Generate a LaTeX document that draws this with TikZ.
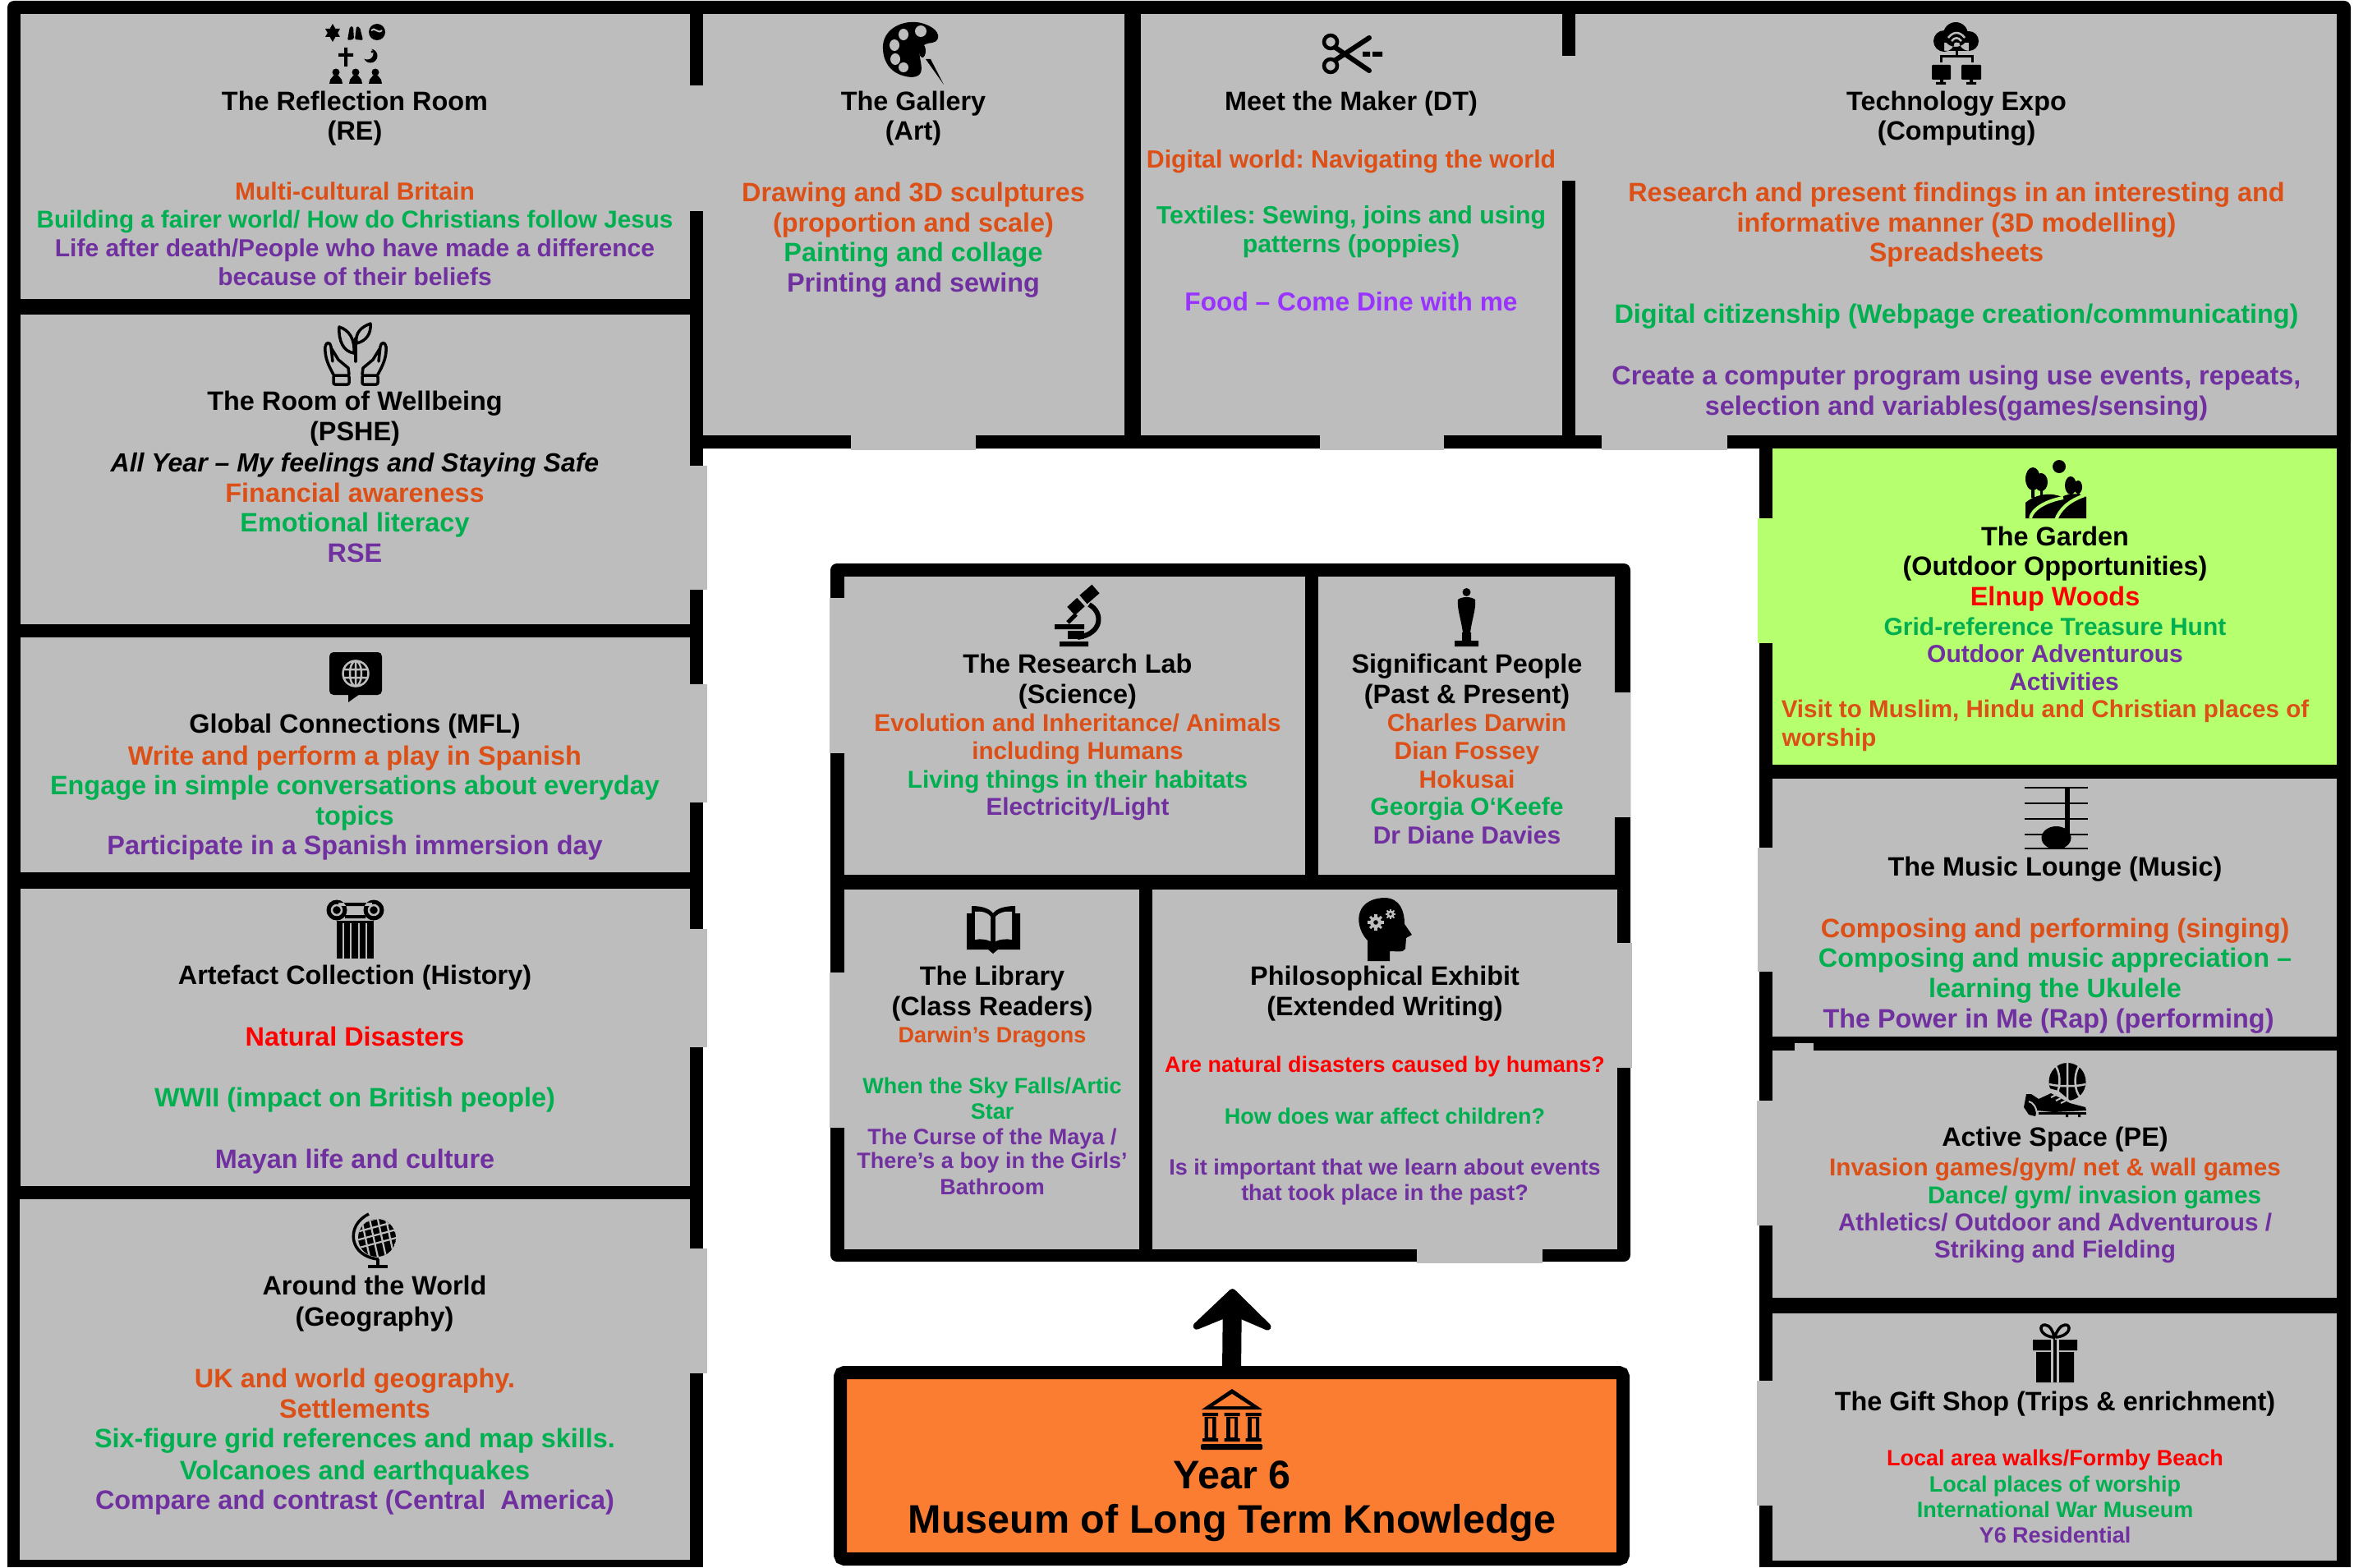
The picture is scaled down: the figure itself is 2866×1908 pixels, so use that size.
\documentclass[tikz,border=0pt]{standalone}
\usepackage{fontspec}
\usetikzlibrary{arrows.meta}
\newfontfamily\lab{Liberation Sans Bold}
\newfontfamily\labi{Liberation Sans Bold Italic}
\newfontfamily\labb{Liberation Sans Bold}
\definecolor{gbg}{HTML}{BDBDBD}
\definecolor{cO}{HTML}{DC4F16}
\definecolor{cG}{HTML}{00B050}
\definecolor{cP}{HTML}{7030A0}
\definecolor{cR}{HTML}{FF0000}
\definecolor{cL}{HTML}{9933FF}
\definecolor{cK}{HTML}{000000}
\definecolor{gard}{HTML}{B6FF6E}
\definecolor{orng}{HTML}{FA7D32}
\frenchspacing
\newcount\tlc
\newcommand{\tl}[5][\lab]{\global\advance\tlc by 1
  \node[anchor=base,inner sep=0pt,text=#4,font=#1\fontsize{#3}{#3}\selectfont] (t\the\tlc) at (#2,{#5}) {\frenchspacing\tltext};}
\newcommand{\T}[6][\lab]{\def\tltext{#6}\tl[#1]{#2}{#4}{#5}{#3*1.828+1+0.33*#4}}
\newcommand{\gear}[3]{\foreach \a in {0,45,...,315}{\draw[gbg,line width=#3*0.45pt] (#1,#2) -- ++(\a:#3*1.4);}
  \fill[gbg] (#1,#2) circle (#3); \fill[black] (#1,#2) circle (#3*0.4);}
\tikzset{room/.style={fill=gbg,draw=none},wall/.style={fill=black,draw=none},
 ico/.style={line width=3.5pt,line cap=round,line join=round},gl/.style={draw=gbg,line width=2.5pt}}
\begin{document}
\begin{tikzpicture}[x=1pt,y=-1pt]
\useasboundingbox (0,0) rectangle (2866,1908);
\fill[white] (0,0) rectangle (2866,1908);
% black masses
\fill[wall,rounded corners=8pt] (9,1) rectangle (2862,546);
\fill[wall] (9,20) rectangle (856,1908);
\fill[wall] (2142,530) rectangle (2862,1908);
\fill[wall,rounded corners=8pt] (1011,686) rectangle (1985,1536);
% rooms
\fill[room] (25,17) rectangle (840,364);
\fill[room] (25,383) rectangle (840,760);
\fill[room] (25,776) rectangle (840,1062);
\fill[room] (25,1082) rectangle (840,1444);
\fill[room] (24,1460) rectangle (840,1899);
\fill[room] (856,17) rectangle (1369,530);
\fill[room] (1389,17) rectangle (1902,530);
\fill[room] (1918,17) rectangle (2845,530);
\fill[gard] (2158,546) rectangle (2845,931);
\fill[room] (2158,948) rectangle (2845,1262);
\fill[room] (2158,1279) rectangle (2845,1580);
\fill[room] (2158,1599) rectangle (2845,1900);
\fill[room] (1028,702) rectangle (1589,1065);
\fill[room] (1605,702) rectangle (1966,1065);
\fill[room] (1028,1083) rectangle (1387,1521);
\fill[room] (1403,1083) rectangle (1969,1521);
% doors
\fill[room] (838,104) rectangle (858,257);
\fill[room] (1900,68) rectangle (1920,220);
\fill[room] (1036,528) rectangle (1188,548);
\fill[room] (1607,528) rectangle (1758,548);
\fill[room] (1950,528) rectangle (2103,548);
\fill[room] (838,567) rectangle (861,718);
\fill[room] (838,833) rectangle (861,977);
\fill[room] (838,1131) rectangle (861,1275);
\fill[room] (838,1520) rectangle (861,1672);
\fill[gard] (2140,631) rectangle (2160,783);
\fill[room] (2140,1032) rectangle (2160,1183);
\fill[room] (2139,1340) rectangle (2160,1492);
\fill[room] (2139,1681) rectangle (2160,1833);
\fill[room] (2185,1270) rectangle (2208,1281);
\fill[room] (1010,728) rectangle (1030,917);
\fill[room] (1010,1184) rectangle (1030,1373);
\fill[room] (1964,843) rectangle (1985,995);
\fill[room] (1967,1148) rectangle (1987,1300);
\fill[room] (1725,1519) rectangle (1878,1538);
% museum and arrow
\coordinate (tgt) at (1500.5,1569);
\node[draw=black,line width=16pt,fill=orng,rounded corners=5pt,minimum width=953pt,minimum height=227pt,inner sep=0pt,outer sep=0pt] (museum) at (1499.5,1784.5) {};
\draw[line width=23pt,-{Stealth[length=60pt,width=124pt,inset=26pt,round]}] (museum.north) -- (tgt);
% ---------- text
\T{432}{67}{32.4}{cK}{The Reflection Room}
\T{432}{87}{32.4}{cK}{(RE)}
\T{432}{127}{30}{cO}{Multi-cultural Britain}
\T{432}{146}{29.6}{cG}{Building a fairer world/ How do Christians follow Jesus}
\T{432}{165}{30}{cP}{Life after death/People who have made a difference}
\T{432}{184}{30}{cP}{because of their beliefs}
\T{432}{267}{32.4}{cK}{The Room of Wellbeing}
\T{432}{287}{32.4}{cK}{(PSHE)}
\T[\labi]{432}{308}{32}{cK}{All Year – My feelings and Staying Safe}
\T{432}{328}{32.4}{cO}{Financial awareness}
\T{432}{348}{32.4}{cG}{Emotional literacy}
\T{432}{368}{32.4}{cP}{RSE}
\T{432}{482}{32.4}{cK}{Global Connections (MFL)}
\T{432}{503}{32.4}{cO}{Write and perform a play in Spanish}
\T{432}{523}{32.4}{cG}{Engage in simple conversations about everyday}
\T{432}{543}{32.4}{cG}{topics}
\T{432}{563}{32.4}{cP}{Participate in a Spanish immersion day}
\T{432}{649}{32.4}{cK}{Artefact Collection (History)}
\T{432}{690}{32.4}{cR}{Natural Disasters}
\T{432}{731}{32.4}{cG}{WWII (impact on British people)}
\T{432}{772}{32.4}{cP}{Mayan life and culture}
\T{456}{856}{32.4}{cK}{Around the World}
\T{456}{877}{32.4}{cK}{(Geography)}
\T{432}{918}{32.4}{cO}{UK and world geography.}
\T{432}{938}{32.4}{cO}{Settlements}
\T{432}{958}{32.4}{cG}{Six-figure grid references and map skills.}
\T{432}{979}{32.4}{cG}{Volcanoes and earthquakes}
\T{432}{999}{32.4}{cP}{Compare and contrast (Central\ \ America)}
\T{1112}{67}{32.4}{cK}{The Gallery}
\T{1112}{87}{32.4}{cK}{(Art)}
\T{1112}{128}{32.4}{cO}{Drawing and 3D sculptures}
\T{1112}{148}{32.4}{cO}{(proportion and scale)}
\T{1112}{168}{32.4}{cG}{Painting and collage}
\T{1112}{188}{32.4}{cP}{Printing and sewing}
\T{1645}{67}{32.4}{cK}{Meet the Maker (DT)}
\T{1645}{106}{30.3}{cO}{Digital world: Navigating the world}
\T{1645}{143}{30.3}{cG}{Textiles: Sewing, joins and using}
\T{1645}{162}{30.3}{cG}{patterns (poppies)}
\T{1645}{201}{31.7}{cL}{Food – Come Dine with me}
\T{2382}{67}{32.4}{cK}{Technology Expo}
\T{2382}{87}{32.4}{cK}{(Computing)}
\T{2382}{128}{32.4}{cO}{Research and present findings in an interesting and}
\T{2382}{148}{32.4}{cO}{informative manner (3D modelling)}
\T{2382}{168}{32.4}{cO}{Spreadsheets}
\T{2382}{209}{32.4}{cG}{Digital citizenship (Webpage creation/communicating)}
\T{2382}{250}{32.4}{cP}{Create a computer program using use events, repeats,}
\T{2382}{270}{32.4}{cP}{selection and variables(games/sensing)}
\T{2502}{357}{32.4}{cK}{The Garden}
\T{2502}{377}{32.4}{cK}{(Outdoor Opportunities)}
\T{2502}{397}{32.4}{cR}{Elnup Woods}
\T{2502}{417}{30}{cG}{Grid-reference Treasure Hunt}
\T{2502}{435}{30}{cP}{Outdoor Adventurous}
\T{2513}{454}{30}{cP}{Activities}
\T{2490}{472}{29.6}{cO}{Visit to Muslim, Hindu and Christian places of}
\T{2227}{491}{30}{cO}{worship}
\T{2502}{577}{32.4}{cK}{The Music Lounge (Music)}
\T{2502}{618}{32.4}{cO}{Composing and performing (singing)}
\T{2502}{638}{32.4}{cG}{Composing and music appreciation –}
\T{2502}{658}{32.4}{cG}{learning the Ukulele}
\T{2494}{678}{32.4}{cP}{The Power in Me (Rap) (performing)}
\T{2502}{757}{32.4}{cK}{Active Space (PE)}
\T{2502}{777}{29.7}{cO}{Invasion games/gym/ net \& wall games}
\T{2550}{796}{29.7}{cG}{Dance/ gym/ invasion games}
\T{2502}{814}{29.7}{cP}{Athletics/ Outdoor and Adventurous /}
\T{2502}{832}{29.7}{cP}{Striking and Fielding}
\T{2502}{933}{32.4}{cK}{The Gift Shop (Trips \& enrichment)}
\T{2502}{971}{27}{cR}{Local area walks/Formby Beach}
\T{2502}{988}{27}{cG}{Local places of worship}
\T{2502}{1005}{27}{cG}{International War Museum}
\T{2502}{1022}{27}{cP}{Y6 Residential}
\T{1312}{442}{32.4}{cK}{The Research Lab}
\T{1312}{462}{32.4}{cK}{(Science)}
\T{1312}{481}{29.7}{cO}{Evolution and Inheritance/ Animals}
\T{1312}{500}{29.7}{cO}{including Humans}
\T{1312}{519}{29.7}{cG}{Living things in their habitats}
\T{1312}{537}{29.7}{cP}{Electricity/Light}
\T{1786}{442}{32.4}{cK}{Significant People}
\T{1786}{462}{32.4}{cK}{(Past \& Present)}
\T{1798}{481}{30}{cO}{Charles Darwin}
\T{1786}{500}{30}{cO}{Dian Fossey}
\T{1786}{519}{30}{cO}{Hokusai}
\T{1786}{537}{30}{cG}{Georgia O‘Keefe}
\T{1786}{556}{30}{cP}{Dr Diane Davies}
\T{1208}{650}{32.4}{cK}{The Library}
\T{1208}{670}{32.4}{cK}{(Class Readers)}
\T{1208}{689}{27}{cO}{Darwin’s Dragons}
\T{1208}{723}{27}{cG}{When the Sky Falls/Artic}
\T{1208}{740}{27}{cG}{Star}
\T{1208}{757}{27}{cP}{The Curse of the Maya /}
\T{1208}{773}{27}{cP}{There’s a boy in the Girls’}
\T{1208}{790}{27}{cP}{Bathroom}
\T{1686}{650}{32.4}{cK}{Philosophical Exhibit}
\T{1686}{670}{32.4}{cK}{(Extended Writing)}
\T{1686}{709}{27}{cR}{Are natural disasters caused by humans?}
\T{1686}{743}{27}{cG}{How does war affect children?}
\T{1686}{777}{27}{cP}{Is it important that we learn about events}
\T{1686}{794}{27}{cP}{that took place in the past?}
\T[\labb]{1500}{982}{48.5}{cK}{Year 6}
\T[\labb]{1500}{1012}{48.5}{cK}{Museum of Long Term Knowledge}
% ---------- icons
% RE
\fill (405,29) -- (414,45) -- (396,45) -- cycle (405,51) -- (414,35) -- (396,35) -- cycle;
\fill (405,40) circle (6);
\fill[rounded corners=2pt] (423,49) -- (426,32) -- (430,32) -- (431,48) -- cycle (432,48) -- (434,32) -- (438,33) -- (442,49) -- cycle;
\fill (459,39) circle (10);
\draw[gl,line width=2pt] (452,37) .. controls (456,32) and (460,42) .. (465,37);
\fill (419,58) rectangle (423,81) (412,65) rectangle (430,69);
\fill (451,68) circle (8.5); \fill[gbg] (447,65) circle (7.5); \fill (453,63) circle (1.6);
\foreach \x in {409,433,457}{\fill (\x,88) circle (4.5); \fill (\x-8,102) -- (\x-7,97) -- (\x-3,92) -- (\x+3,92) -- (\x+7,97) -- (\x+8,102) -- cycle;}
% wellbeing
\foreach \m/\s in {0/1,866/-1}{\begin{scope}[xshift=\m pt,xscale=\s]
\draw[ico] (406,456) .. controls (400,445) and (395,435) .. (396,422) .. controls (397,416) and (402,416) .. (403,422) -- (405,440);
\draw[ico] (404,425) -- (412,438) -- (424,448) -- (425,456);
\draw[ico,rounded corners=2pt] (406,457) rectangle (425,468);
\end{scope}}
\draw[ico] (433,440) -- (433,412);
\draw[ico] (431,430) .. controls (418,428) and (412,415) .. (413,398) .. controls (425,402) and (432,412) .. (431,430);
\draw[ico] (434,418) .. controls (432,405) and (440,398) .. (451,394) .. controls (452,405) and (447,415) .. (434,418);
% palette
\fill (1110,94) .. controls (1082,92) and (1074,72) .. (1075,55) .. controls (1077,32) and (1105,22) .. (1125,29) .. controls (1146,36) and (1146,50) .. (1135,52) .. controls (1122,53) and (1118,60) .. (1120,70) .. controls (1123,85) and (1124,93) .. (1110,94) -- cycle;
\fill[gbg] (1100,42) ellipse (6 and 7) (1121,38) ellipse (7 and 7) (1089,55) ellipse (6 and 7) (1090,72) ellipse (6 and 7) (1100,82) ellipse (6 and 6);
\fill (1123,62) ellipse (4 and 8);
\fill (1127,72) -- (1133,72) -- (1149,103) -- cycle;
% scissors
\draw[line width=4.5pt] (1620,51) circle (8) (1620,80) circle (8);
\draw[line width=6pt,line cap=round] (1626,58) -- (1667,86) (1626,73) -- (1667,46);
\fill (1659,63) rectangle (1668,69) (1671,63) rectangle (1683,69);
% tech
\fill (2367,50) circle (13) (2381,42) circle (15) (2397,50) circle (12) (2367,52) rectangle (2397,62);
\draw[gl] (2372,46) .. controls (2378,38) and (2386,38) .. (2392,46) (2376,50) .. controls (2380,45) and (2384,45) .. (2388,50);
\fill[gbg] (2382,54) circle (2.5);
\draw[line width=3pt] (2382,60) -- (2382,69) (2363,76) -- (2363,69) -- (2401,69) -- (2401,76);
\fill[rounded corners=1pt] (2352,79) rectangle (2375,97) (2388,79) rectangle (2412,97);
\fill (2362,97) rectangle (2366,101) (2398,97) rectangle (2402,101) (2357,100) rectangle (2369,103) (2394,100) rectangle (2406,103);
% garden
\fill (2507,568) circle (8);
\fill (2475,583) ellipse (9 and 14) (2485,587) ellipse (8 and 11) (2521,591) ellipse (7 and 11) (2530,593) ellipse (5 and 8);
\fill (2473,590) rectangle (2477,606) (2484,590) rectangle (2487,606) (2520,595) rectangle (2523,606) (2529,595) rectangle (2532,606);
\fill (2466,631) -- (2466,612) .. controls (2480,600) and (2500,600) .. (2510,605) .. controls (2520,600) and (2530,600) .. (2540,605) -- (2540,631) -- cycle;
\draw[draw=gard,line width=4pt] (2472,631) .. controls (2474,620) and (2490,610) .. (2512,606) (2503,633) .. controls (2508,620) and (2518,610) .. (2538,603);
% music
\foreach \y in {959,978,996.5,1015.5,1033}{\draw[line width=2pt] (2465,\y) -- (2542,\y);}
\fill (2503.5,1020) ellipse (18 and 14);
\fill (2514,959) rectangle (2520,1020);
% active
\fill (2517,1317) ellipse (22.5 and 23);
\draw[gl] (2517,1294) -- (2517,1340) (2495,1320) .. controls (2505,1323) and (2529,1323) .. (2539,1320) (2503,1298) .. controls (2510,1310) and (2508,1328) .. (2502,1335) (2531,1298) .. controls (2524,1310) and (2526,1328) .. (2532,1335);
\fill[gbg] (2495,1325) -- (2506,1328) -- (2526,1345) -- (2510,1350) -- cycle;
\fill (2467,1332) -- (2473,1332) -- (2482,1338) -- (2497,1331) -- (2520,1343) -- (2539,1348) -- (2540,1352) -- (2500,1354) -- (2480,1352) -- (2478,1359) -- (2470,1357) -- (2464,1348) -- cycle;
\fill (2482,1354) rectangle (2540,1357);
\draw[gl,line width=2pt] (2497,1336) -- (2503,1333) (2503,1340) -- (2509,1337) (2509,1343) -- (2515,1340) (2470,1341) .. controls (2475,1342) and (2480,1348) .. (2480,1358);
\fill (2515,1357) rectangle (2518,1360) (2530,1357) rectangle (2533,1360);
% gift
\draw[line width=3.5pt] (2500,1628) .. controls (2482,1626) and (2482,1612) .. (2490,1613) .. controls (2496,1613) and (2500,1622) .. (2501,1628) .. controls (2504,1622) and (2508,1613) .. (2514,1613) .. controls (2522,1612) and (2522,1626) .. (2503,1628);
\fill (2475,1631) rectangle (2529,1644) (2479,1646) rectangle (2525,1683);
\fill[gbg] (2497,1631) rectangle (2507,1683);
\fill (2500,1631) rectangle (2504,1683);
% museum icon
\fill (1500,1691) -- (1537,1716) -- (1463,1716) -- cycle;
\fill[orng] (1500,1697) -- (1523,1712) -- (1477,1712) -- cycle;
\foreach \x in {1473.5,1500,1526}{\fill (\x-9.5,1720) rectangle (\x+9.5,1724) (\x-7,1725) rectangle (\x+7,1751) (\x-9.5,1751) rectangle (\x+9.5,1755);
 \fill[orng] (\x-2.5,1727) rectangle (\x+2.5,1750);}
\fill[rounded corners=1.5pt] (1462,1758) rectangle (1537,1765);
% microscope
\fill (1290,781) rectangle (1325,787) (1284,760) rectangle (1320,766);
\draw[line width=6pt] (1326,736) .. controls (1344,746) and (1342,772) .. (1312,776);
\draw[line width=14pt] (1304,744) -- (1316,733);
\draw[line width=14pt] (1319,730) -- (1334,717);
\draw[line width=5pt] (1300,758) -- (1310,748);
\fill (1300,768) rectangle (1320,778);
% statue
\fill (1785.5,721) circle (5);
\fill (1775,730) .. controls (1780,726) and (1791,726) .. (1796,730) .. controls (1797,742) and (1793,750) .. (1790,770) -- (1781,770) .. controls (1778,750) and (1774,742) .. (1775,730) -- cycle;
\fill (1780,770) rectangle (1791,780) (1771,780) rectangle (1800,787);
% book
\fill (1177,1112) -- (1177,1156) -- (1203,1156) -- (1209,1161) -- (1215,1156) -- (1242,1156) -- (1242,1112) -- cycle;
\fill (1183,1103) .. controls (1195,1103) and (1205,1106) .. (1209,1112) .. controls (1213,1106) and (1224,1103) .. (1236,1103) -- (1236,1150) -- (1183,1150) -- cycle;
\fill[gbg] (1187,1110) .. controls (1195,1109) and (1203,1111) .. (1206,1116) -- (1206,1146) .. controls (1200,1143) and (1193,1143) .. (1187,1144) -- cycle;
\fill[gbg] (1232,1110) .. controls (1224,1109) and (1216,1111) .. (1212,1116) -- (1212,1146) .. controls (1218,1143) and (1226,1143) .. (1232,1144) -- cycle;
% head
\fill (1665,1170) -- (1665,1145) .. controls (1650,1130) and (1646,1095) .. (1685,1093) .. controls (1705,1093) and (1710,1110) .. (1710,1125) -- (1719,1138) -- (1712,1142) -- (1711,1155) .. controls (1709,1160) and (1700,1158) .. (1692,1158) -- (1692,1170) -- cycle;
\gear{1675}{1123}{7} \gear{1693}{1113}{4.5}
% speech bubble
\fill[rounded corners=5pt] (401,794) rectangle (465,846);
\fill (424,845) -- (424,855) -- (438,845) -- cycle;
\draw[gl] (433,820) circle (15.5) (433,820) ellipse (7 and 15.5) (433,804) -- (433,836) (418,815) -- (448,815) (418,825) -- (448,825);
% column
\fill (410,1108) circle (12.5) (455,1108) circle (12.5) (412,1099) rectangle (453,1103) (420,1114) rectangle (445,1118);
\draw[gl] (410,1108) circle (6) (455,1108) circle (6);
\fill (410,1121) rectangle (455,1167);
\foreach \x in {418,427,437,446}{\fill[gbg] (\x-1,1124) rectangle (\x+1,1167);}
% globe
\begin{scope}
\clip (459,1507) circle (23);
\fill (459,1507) circle (23);
\foreach \d in {-16,-6,4,14}{\draw[gl,line width=2.2pt] (430,1507+\d) -- (490,1507+\d-16) (430+\d+25,1480) -- (430+\d+37,1535);}
\end{scope}
\draw[line width=3.5pt] (449,1478) .. controls (420,1492) and (425,1530) .. (461,1533);
\draw[line width=3.5pt] (460,1533) -- (460,1541);
\draw[line width=3.5pt] (448,1542) -- (472,1542);
\end{tikzpicture}
\end{document}
